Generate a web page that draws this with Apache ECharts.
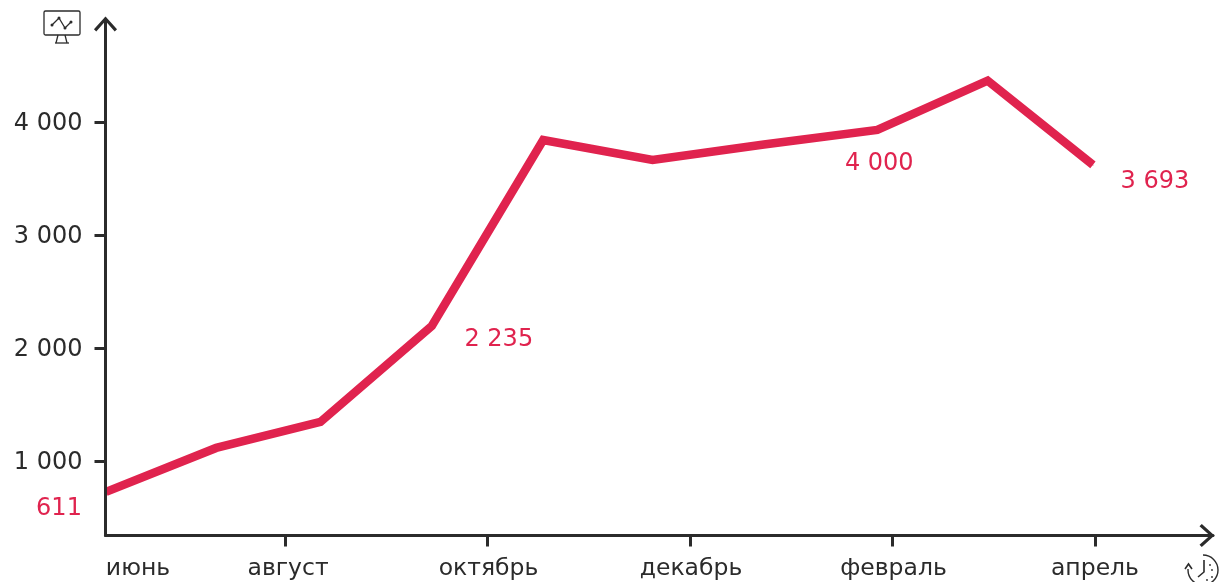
<!DOCTYPE html>
<html>
<head>
<meta charset="utf-8">
<style>
  html, body { margin: 0; padding: 0; background: #fff; }
  #chart { width: 1219px; height: 582px; }
</style>
<script src="https://cdn.jsdelivr.net/npm/echarts@6/dist/echarts.min.js"></script>
</head>
<body>
<div id="chart"></div>
<script>
// x of each point on the month scale (0 = июнь)
const pointMonths = [0.232, 1.32, 2.35, 3.45, 4.55, 5.63, 6.73, 7.85, 8.94, 9.98];
const pointValues = [726, 1115, 1345, 2195, 3840, 3664, 3800, 3930, 4365, 3620];
const pointLabels = ["611", "", "", "2 235", "", "", "", "4 000", "", "3 693"];
const monthTicks = [2, 4, 6, 8, 10];
const monthNames = { 0.548: "июнь", 2.03: "август", 4.01: "октябрь", 6.01: "декабрь", 8.01: "февраль", 10: "апрель" };
const valueTicks = [1000, 2000, 3000, 4000];

const red = "#e0234e";
const ink = "#2b2b2b";
const font = "'DejaVu Sans', Verdana, sans-serif";
const chevron = "path://M0 11 L10 0 L20 11 L18 13 L10 4 L2 13 Z";

// label offsets from their points, same order as pointLabels
const labelOffsets = { 0: [-47, 17], 3: [67, 14], 7: [2, 34], 9: [62, 17] };

const fmt = (v) => "{n|" + String(v).replace(/\B(?=(\d{3})+$)/g, " ") + "}";

const chart = echarts.init(document.getElementById("chart"), null, { renderer: "canvas" });

const line = (shape, width) => ({
  type: "polyline",
  shape: { points: shape },
  style: { stroke: ink, lineWidth: width || 1.3, fill: null },
});
const dot = (cx, cy, r) => ({ type: "circle", shape: { cx, cy, r }, style: { fill: ink } });

chart.setOption({
  animation: false,
  grid: { left: 105.5, top: 19, width: 1107.5, height: 516.5, outerBoundsMode: "none" },
  xAxis: {
    type: "value",
    min: 0.227,
    max: 11.166,
    z: 5,
    splitLine: { show: false },
    axisLine: {
      show: true,
      onZero: false,
      symbol: ["none", chevron],
      symbolSize: [25, 15],
      symbolOffset: [0, -6],
      lineStyle: { color: ink, width: 3 },
    },
    axisTick: {
      show: true,
      length: 11,
      customValues: monthTicks,
      lineStyle: { color: ink, width: 3 },
    },
    axisLabel: {
      show: true,
      customValues: Object.keys(monthNames).map(Number),
      formatter: (v) => monthNames[v] || "",
      color: ink,
      fontFamily: font,
      fontSize: 23.5,
      margin: 21,
      hideOverlap: false,
    },
  },
  yAxis: {
    type: "value",
    min: 340,
    max: 4911,
    z: 5,
    splitLine: { show: false },
    axisLine: {
      show: true,
      onZero: false,
      symbol: ["none", chevron],
      symbolSize: [25, 15],
      symbolOffset: [0, -5],
      lineStyle: { color: ink, width: 3 },
    },
    axisTick: {
      show: true,
      length: 11,
      customValues: valueTicks,
      lineStyle: { color: ink, width: 3 },
    },
    axisLabel: {
      customValues: valueTicks,
      formatter: fmt,
      margin: 23,
      rich: {
        n: {
          color: ink,
          fontFamily: font,
          fontSize: 24,
          padding: [4, 0, 0, 0],
        },
      },
    },
  },
  series: [
    {
      type: "line",
      symbol: "circle",
      symbolSize: 1,
      clip: false,
      lineStyle: { color: red, width: 8.5, cap: "butt", join: "miter" },
      itemStyle: { color: red },
      data: pointMonths.map((x, i) => ({
        value: [x, pointValues[i]],
        label: {
          show: pointLabels[i] !== "",
          position: "inside",
          offset: labelOffsets[i] || [0, 0],
          formatter: pointLabels[i],
          color: red,
          fontFamily: font,
          fontSize: 24,
        },
      })),
    },
  ],
  graphic: [
    // monitor icon
    {
      type: "rect",
      shape: { x: 44, y: 11, width: 36, height: 24, r: 1.5 },
      style: { stroke: ink, lineWidth: 1.3, fill: "#fff" },
    },
    line([[52, 25], [59, 18], [65, 28], [71, 22]]),
    dot(52, 25, 1.5),
    dot(59, 18, 1.5),
    dot(65, 28, 1.5),
    dot(71, 22, 1.5),
    line([[58, 35], [56, 43]]),
    line([[65, 35], [67, 43]]),
    line([[55, 43], [69, 43]]),
    // clock icon
    {
      type: "arc",
      shape: { cx: 1203, cy: 570, r: 15, startAngle: -Math.PI / 2, endAngle: Math.PI * 1.02, clockwise: true },
      style: { stroke: ink, lineWidth: 1.4, fill: null },
    },
    line([[1204, 560], [1204, 572], [1198, 577]], 1.6),
    line([[1185, 569], [1188.5, 564], [1192, 569]], 1.6),
    dot(1210, 565, 0.9),
    dot(1212, 570, 0.9),
    dot(1212, 577, 0.9),
    dot(1207, 580, 0.9),
  ],
});
</script>
</body>
</html>
